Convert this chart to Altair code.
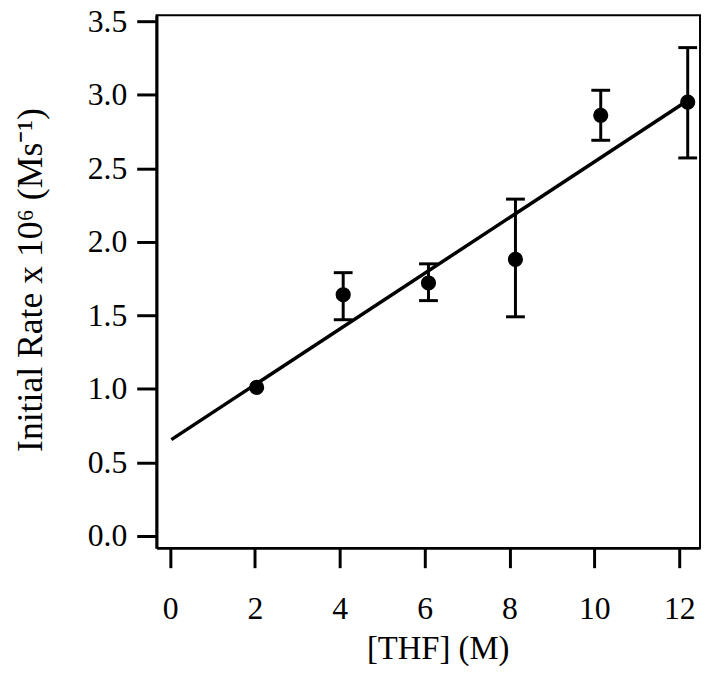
import altair as alt
import pandas as pd

# Data
thf = [2.04, 4.08, 6.09, 8.14, 10.15, 12.2]
rate = [1.01, 1.64, 1.72, 1.88, 2.86, 2.95]
err_lo = [None, 1.47, 1.60, 1.49, 2.69, 2.57]
err_hi = [None, 1.79, 1.85, 2.29, 3.03, 3.32]

fit_x = [0.03, 12.2]
fit_y = [0.655, 2.96]

x_ticks = [0, 2, 4, 6, 8, 10, 12]
y_ticks = [0.0, 0.5, 1.0, 1.5, 2.0, 2.5, 3.0, 3.5]

X_TITLE = "[THF] (M)"
Y_TITLE = "Initial Rate x 10⁶ (Ms⁻¹)"

pts = pd.DataFrame({"thf": thf, "rate": rate, "lo": err_lo, "hi": err_hi})
fit = pd.DataFrame({"thf": fit_x, "rate": fit_y})

FONT = "Liberation Serif"

xscale = alt.Scale(domain=[-0.32, 12.49], nice=False, zero=False)
yscale = alt.Scale(domain=[-0.081, 3.54], nice=False, zero=False)

xaxis = alt.Axis(
    values=x_ticks, format="d", grid=False,
    tickSize=20, tickWidth=3, domainWidth=3,
    labelFontSize=32, labelFont=FONT, labelPadding=26, labelColor="black",
    titleFont=FONT, titleFontSize=33, titleFontWeight="normal",
    titleColor="black", titleX=284, titleY=112, titleBaseline="alphabetic",
    titleAlign="center",
)
yaxis = alt.Axis(
    values=y_ticks, format=".1f", grid=False,
    tickSize=20, tickWidth=3, domainWidth=3,
    labelFontSize=32, labelFont=FONT, labelPadding=10, labelColor="black",
    titleFont=FONT, titleFontSize=36,
    titleFontWeight="normal", titleColor="black", titleX=-116, titleY=267,
    titleAngle=270, titleBaseline="alphabetic", titleAlign="center",
)

line = alt.Chart(fit).mark_line(color="black", strokeWidth=3.5).encode(
    x=alt.X("thf:Q", scale=xscale, axis=xaxis, title=X_TITLE),
    y=alt.Y("rate:Q", scale=yscale, axis=yaxis, title=Y_TITLE),
)

bars = alt.Chart(pts).transform_filter("isValid(datum.lo)").mark_errorbar(
    color="black",
    rule=alt.MarkConfig(strokeWidth=3, opacity=1, color="black"),
    ticks=alt.MarkConfig(size=19, opacity=1, color="black"),
).encode(
    x=alt.X("thf:Q", scale=xscale, title=X_TITLE),
    y=alt.Y("lo:Q", scale=yscale, title=Y_TITLE),
    y2="hi:Q",
)

dots = alt.Chart(pts).mark_circle(color="black", opacity=1, size=235).encode(
    x=alt.X("thf:Q", scale=xscale, title=X_TITLE),
    y=alt.Y("rate:Q", scale=yscale, title=Y_TITLE),
)

chart = alt.layer(line, bars, dots).properties(
    width=549, height=538,
    autosize=alt.AutoSizeParams(type="none"),
    padding={"left": 150, "top": 4, "right": 2, "bottom": 118},
).configure_view(stroke="black", strokeWidth=2).configure_axis(
    domainColor="black", tickColor="black"
).configure_tick(thickness=3, opacity=1)

chart.save("out.html", embed_options={"renderer": "svg", "actions": False})
